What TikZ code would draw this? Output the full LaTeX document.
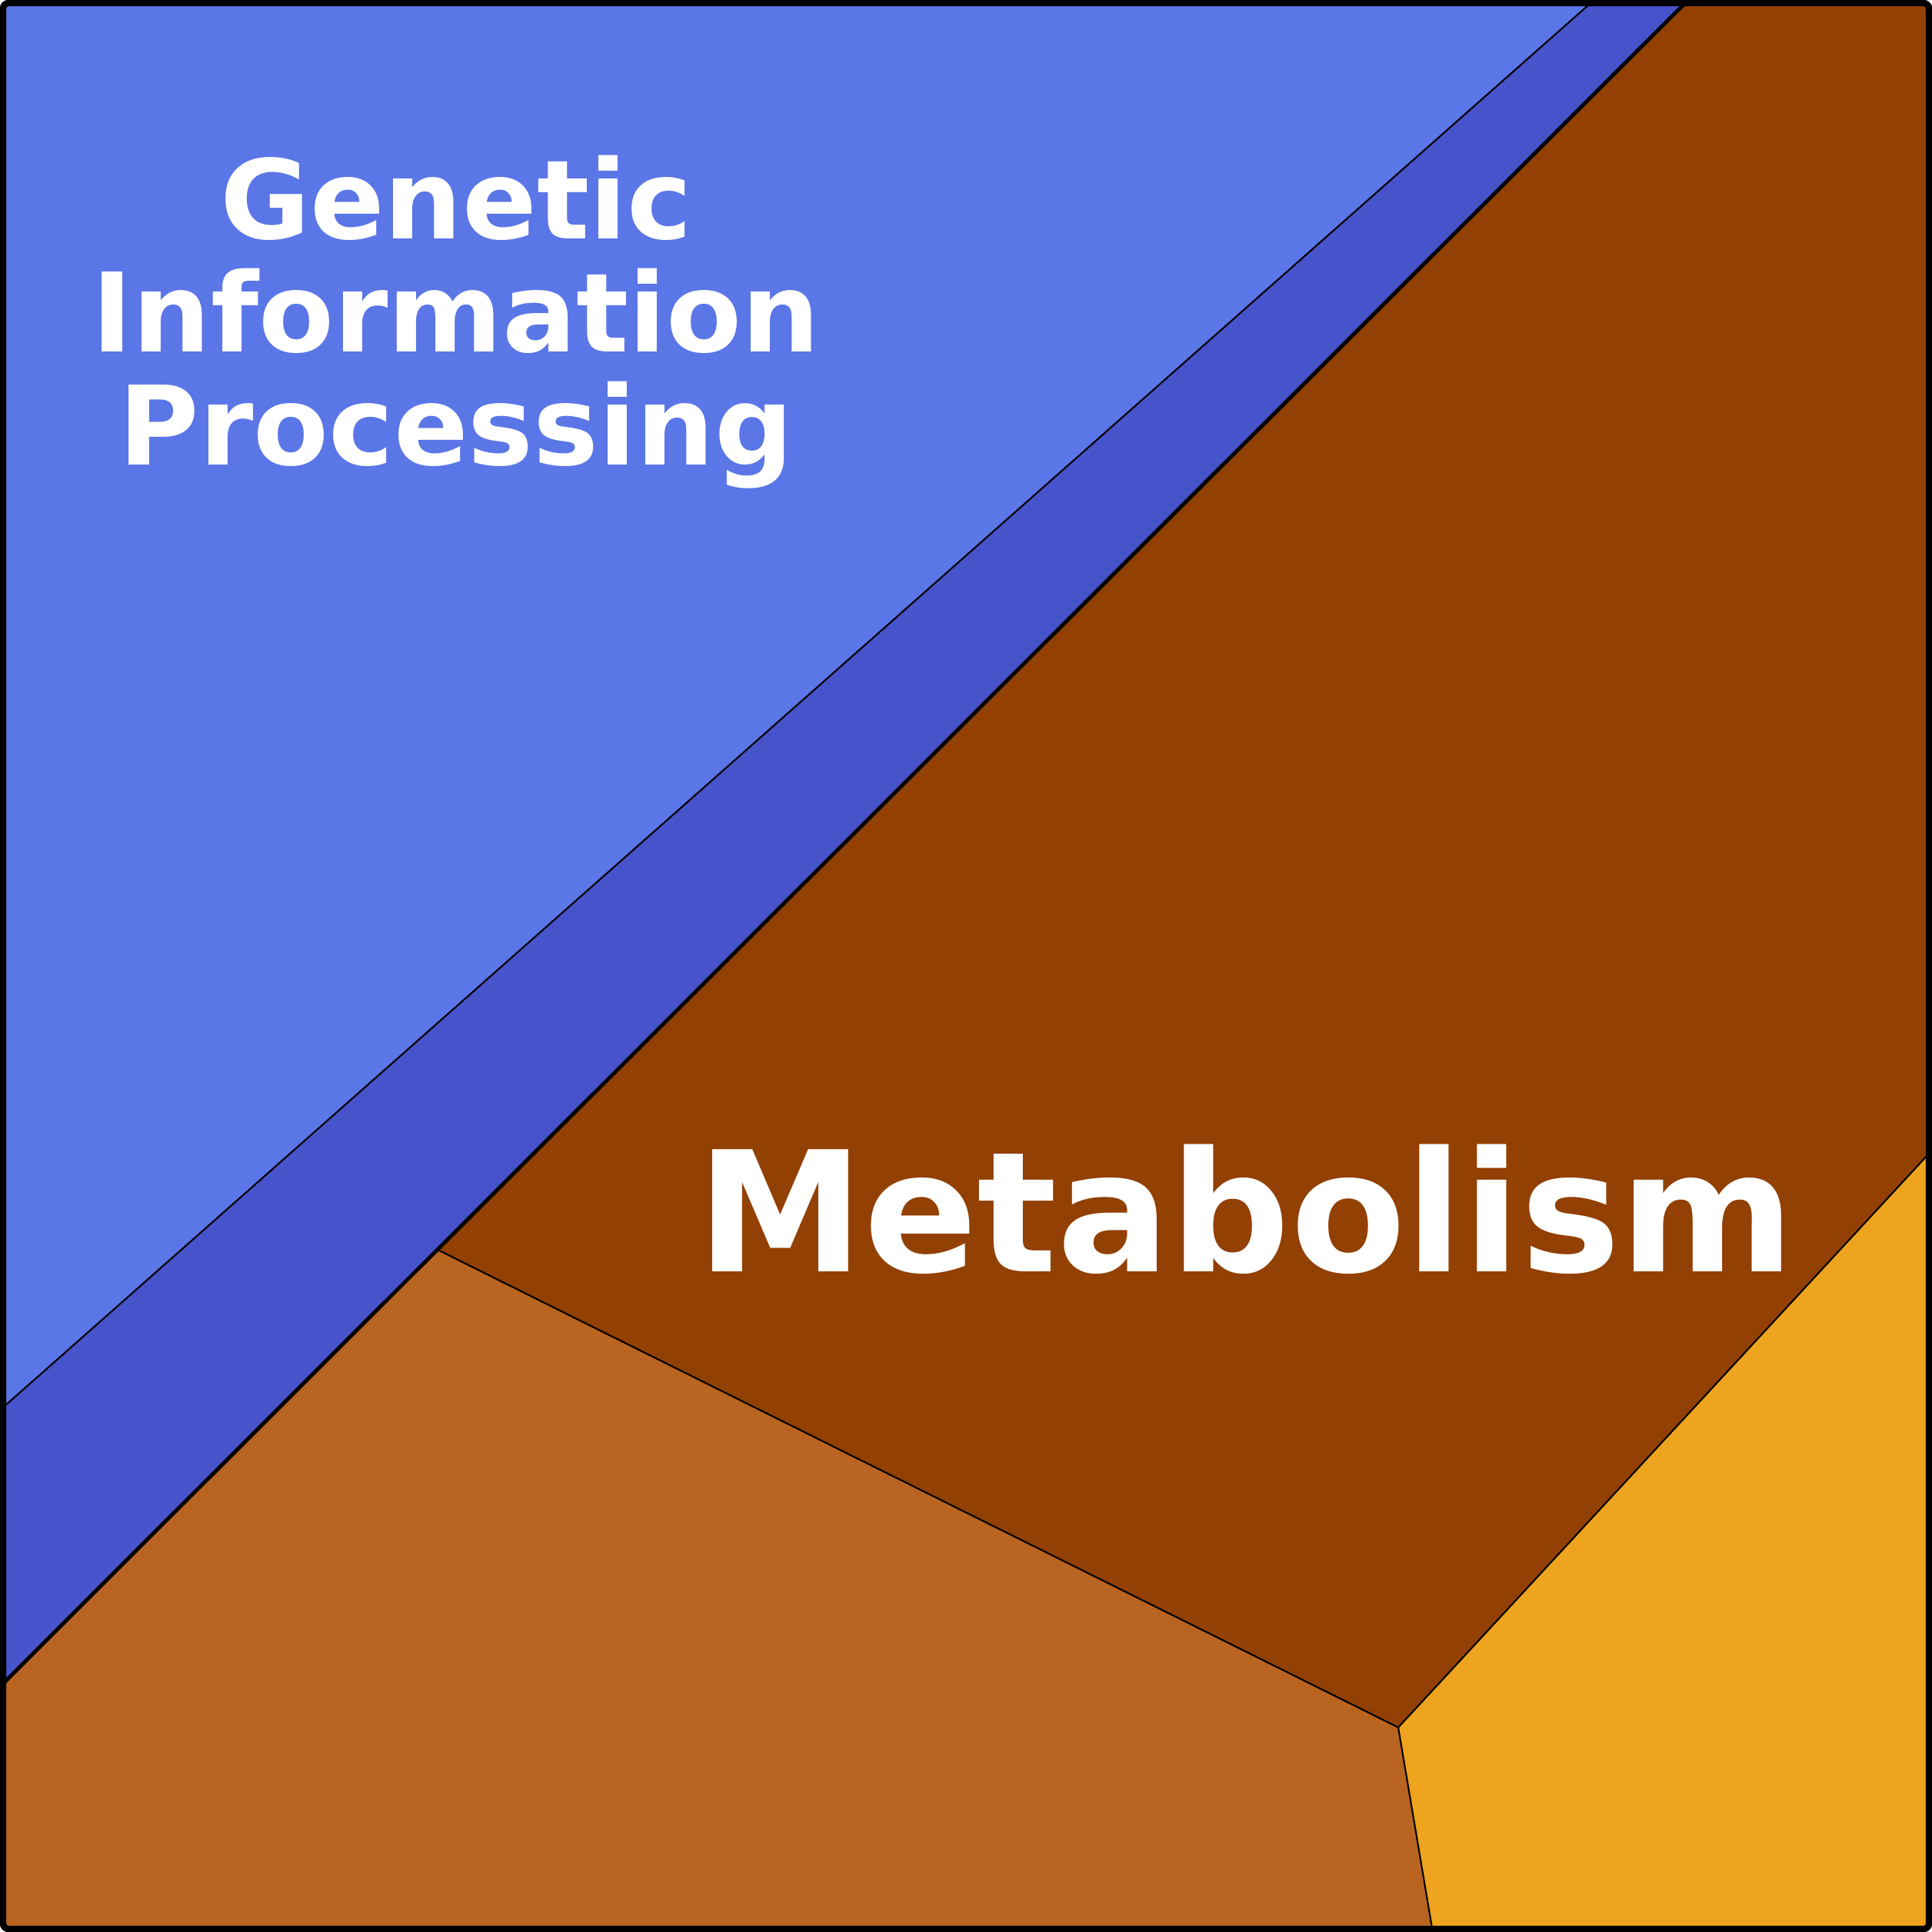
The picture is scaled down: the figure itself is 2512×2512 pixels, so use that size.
\documentclass[tikz,border=0pt]{standalone}
\usepackage{fontspec}
\setmainfont{DejaVu Sans}
\usetikzlibrary{calc}
\begin{document}
\begin{tikzpicture}[x=0.1mm,y=-0.1mm,
  reg/.style={draw=black,line width=0.6pt},
  lbl/.style={text=white,align=center}]
\useasboundingbox (0,0) rectangle (2512,2512);
\definecolor{lb}{HTML}{5B76E6}\definecolor{db}{HTML}{4753CA}
\definecolor{dbr}{HTML}{924003}\definecolor{lbr}{HTML}{BA6422}\definecolor{org}{HTML}{EEA41E}
\coordinate (a) at (2067,5); \coordinate (b) at (5,1829);
\coordinate (c) at (2190,5); \coordinate (d) at (5,2188);
\coordinate (e) at ($(c)!0.742!(d)$); \coordinate (f) at (1818,2246);
\coordinate (g) at (2507,1501); \coordinate (h) at (1862,2507);
\fill[lb] (5,5) -- (a) -- (b) -- cycle;
\fill[db] (a) -- (c) -- (d) -- (b) -- cycle;
\fill[dbr] (c) -- (2507,5) -- (g) -- (f) -- (e) -- cycle;
\fill[lbr] (d) -- (e) -- (f) -- (h) -- (5,2507) -- cycle;
\fill[org] (f) -- (g) -- (2507,2507) -- (h) -- cycle;
\draw[reg] (a) -- (b);
\draw[line width=1.4pt] (c) -- (d);
\draw[reg] (e) -- (f) -- (g);
\draw[reg] (f) -- (h);
\draw[line width=2.4pt,rounded corners=2pt] (4,4) rectangle (2508,2508);
\node[lbl,font=\bfseries\fontsize{40.6pt}{41.8pt}\selectfont,anchor=base] (gip) at (593,604) {Genetic\\Information\\Processing};
\node[lbl,font=\bfseries\fontsize{62pt}{64pt}\selectfont,anchor=base] (met) at (1620,1653) {Metabolism};
\end{tikzpicture}
\end{document}
